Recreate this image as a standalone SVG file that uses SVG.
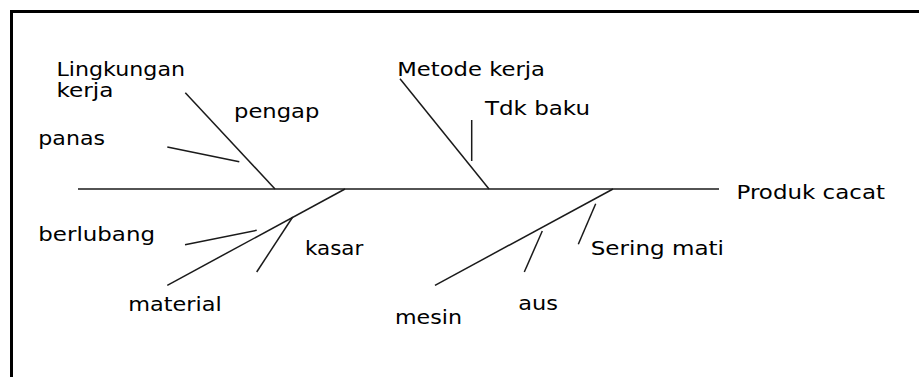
<svg xmlns="http://www.w3.org/2000/svg" width="919" height="377" viewBox="0 0 919 377">
<style>
.t{font-family:"DejaVu Sans","Verdana",sans-serif;font-size:19px;fill:#000}
.l{stroke:#1a1a1a;stroke-width:1.5;fill:none;stroke-linecap:butt}
.b{stroke:#000;stroke-width:3;fill:none}
</style>
<rect width="919" height="377" fill="#fff"/>
<path class="b" d="M11.5 377 V11.5 H919"/>
<g id="connectors">
<line class="l" x1="78" y1="189" x2="719" y2="189"/>
<line class="l" x1="185.3" y1="92.7" x2="275" y2="189"/>
<line class="l" x1="167.3" y1="147" x2="239.3" y2="161.7"/>
<line class="l" x1="400" y1="78.7" x2="489" y2="189"/>
<line class="l" x1="471.7" y1="120" x2="471.7" y2="161"/>
<line class="l" x1="345" y1="189" x2="167.3" y2="285.3"/>
<line class="l" x1="185" y1="244.7" x2="256.7" y2="230.3"/>
<line class="l" x1="292.7" y1="217" x2="256.7" y2="272"/>
<line class="l" x1="613" y1="189" x2="435" y2="285.3"/>
<line class="l" x1="542.3" y1="231" x2="524.3" y2="272"/>
<line class="l" x1="595.7" y1="203.7" x2="578.3" y2="244.3"/>
</g>
<g id="produk"><text class="t" x="736.5" y="199" textLength="148.5" lengthAdjust="spacingAndGlyphs">Produk cacat</text></g>
<g id="lingkungan"><text class="t" x="56.5" y="76" textLength="128.5" lengthAdjust="spacingAndGlyphs">Lingkungan</text><text class="t" x="56.5" y="96.5" textLength="57" lengthAdjust="spacingAndGlyphs">kerja</text></g>
<g id="pengap"><text class="t" x="234" y="117.5" textLength="85.3" lengthAdjust="spacingAndGlyphs">pengap</text></g>
<g id="panas"><text class="t" x="38.3" y="145" textLength="66.7" lengthAdjust="spacingAndGlyphs">panas</text></g>
<g id="metode"><text class="t" x="397.3" y="76" textLength="147.7" lengthAdjust="spacingAndGlyphs">Metode kerja</text></g>
<g id="tdkbaku"><text class="t" x="485" y="115" textLength="105" lengthAdjust="spacingAndGlyphs">Tdk baku</text></g>
<g id="berlubang"><text class="t" x="38.3" y="240.7" textLength="116.7" lengthAdjust="spacingAndGlyphs">berlubang</text></g>
<g id="kasar"><text class="t" x="305" y="255" textLength="58.3" lengthAdjust="spacingAndGlyphs">kasar</text></g>
<g id="material"><text class="t" x="128.3" y="310.7" textLength="93.4" lengthAdjust="spacingAndGlyphs">material</text></g>
<g id="mesin"><text class="t" x="395" y="324" textLength="67" lengthAdjust="spacingAndGlyphs">mesin</text></g>
<g id="aus"><text class="t" x="518.3" y="310" textLength="39.7" lengthAdjust="spacingAndGlyphs">aus</text></g>
<g id="sering"><text class="t" x="590.7" y="254.5" textLength="133.3" lengthAdjust="spacingAndGlyphs">Sering mati</text></g>
</svg>
